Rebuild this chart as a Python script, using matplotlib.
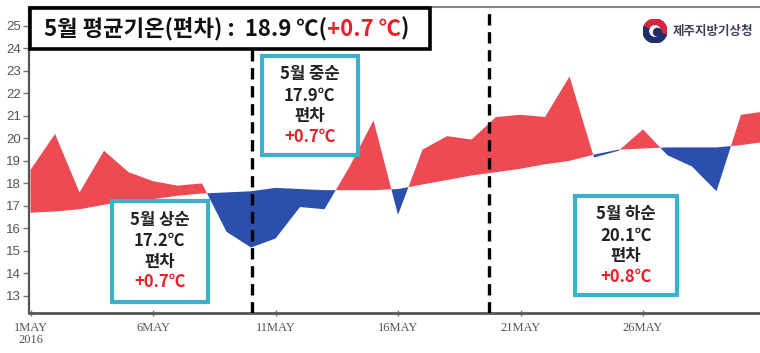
import matplotlib
matplotlib.use('Agg')
import matplotlib.pyplot as plt
from matplotlib.patches import Rectangle, Wedge, Circle
import numpy as np

# ---------------- data ----------------
days = list(range(1, 32))
actual = [18.6, 20.2, 17.6, 19.45, 18.5, 18.1, 17.9, 18.0, 15.85, 15.15,
          15.55, 16.95, 16.85, 18.7, 20.8, 16.6, 19.5, 20.1, 19.95, 20.95,
          21.05, 20.95, 22.75, 19.15, 19.45, 20.4, 19.25, 18.75, 17.65, 21.05,
          21.2]
normal = [16.7, 16.75, 16.85, 17.05, 17.25, 17.3, 17.45, 17.55, 17.6, 17.65,
          17.8, 17.75, 17.7, 17.7, 17.7, 17.75, 17.95, 18.15, 18.35, 18.5,
          18.65, 18.85, 19.0, 19.28, 19.5, 19.55, 19.6, 19.6, 19.6, 19.7,
          19.85]
yticks = list(range(13, 26))
xtick_days = [1, 6, 11, 16, 21, 26]
xtick_labels = ['1MAY\n2016', '6MAY', '11MAY', '16MAY', '21MAY', '26MAY']
dekad_bounds = [10.05, 19.7]
title_black = '5월 평균기온(편차) :  18.9 ℃('
title_red = '+0.7 ℃'
title_end = ')'
box_lines = [
    ['5월 상순', '17.2℃', '편차', '+0.7℃'],
    ['5월 중순', '17.9℃', '편차', '+0.7℃'],
    ['5월 하순', '20.1℃', '편차', '+0.8℃'],
]
logo_text = '제주지방기상청'

# ---------------- figure ----------------
W, H = 760, 353
fig = plt.figure(figsize=(W / 100, H / 100), dpi=100)

def fx(px):
    return px / W

def fy(py):
    return 1 - py / H

ax = fig.add_axes([fx(29.3), fy(313), fx(760) - fx(29.3), fy(7) - fy(313)])

RED = '#EE4A53'
BLUE = '#2C4FAE'
CYAN = '#3BB2C8'

a = np.array(actual)
n = np.array(normal)
ax.fill_between(days, n, a, where=a >= n, interpolate=True, color=RED, lw=0)
ax.fill_between(days, n, a, where=a <= n, interpolate=True, color=BLUE, lw=0)

for xb in dekad_bounds:
    ax.axvline(xb, color='black', lw=2.4, ls=(0, (3.4, 2.0)), zorder=3)

ax.set_xlim(0.95, 1 + (760 - 30.5) / 24.5)
ax.set_ylim(12.24, 25.84)
ax.set_yticks(yticks)
ax.set_yticklabels([str(v) for v in yticks], fontsize=9.5, color='#555555',
                   family=['Liberation Sans Narrow', 'Liberation Sans'])
ax.set_xticks(xtick_days)
ax.set_xticklabels(xtick_labels, fontsize=9, color='#555555',
                   family='Liberation Serif', linespacing=0.95)
ax.tick_params(axis='y', direction='out', length=4, width=1, color='#777777', pad=2)
ax.tick_params(axis='x', direction='inout', length=5, width=1, color='#777777', pad=4)
ax.spines['left'].set_color('#555555')
ax.spines['left'].set_linewidth(1.6)
ax.spines['bottom'].set_color('#555555')
ax.spines['bottom'].set_linewidth(2.0)
ax.spines['top'].set_color('#888888')
ax.spines['top'].set_linewidth(1.5)
ax.spines['right'].set_visible(False)

# ---------------- title box ----------------
fig.patches.append(Rectangle((fx(29.5), fy(48.5)), fx(430) - fx(29.5), fy(8) - fy(48.5),
                             transform=fig.transFigure, facecolor='white',
                             edgecolor='black', lw=2.6, zorder=5))
kfont = ['Noto Sans CJK KR', 'DejaVu Sans']
TS = 16
r = fig.canvas.get_renderer()
t1 = fig.text(fx(44), fy(29), title_black, fontsize=TS, fontweight='bold',
              family=kfont, color='#111111', va='center', ha='left', zorder=6)
bb = t1.get_window_extent(renderer=r)
t2 = fig.text(bb.x1 / fig.dpi / fig.get_figwidth(), fy(29), title_red, fontsize=TS,
              fontweight='bold', family=kfont, color='#E8202A', va='center',
              ha='left', zorder=6)
bb2 = t2.get_window_extent(renderer=r)
fig.text(bb2.x1 / fig.dpi / fig.get_figwidth(), fy(29), title_end, fontsize=TS,
         fontweight='bold', family=kfont, color='#111111', va='center', ha='left',
         zorder=6)

# ---------------- dekad boxes ----------------
box_px = [(111.5, 201, 208, 301.5), (261.5, 56, 358, 155), (575, 196, 677, 295)]
for (x0, y0, x1, y1), lines in zip(box_px, box_lines):
    fig.patches.append(Rectangle((fx(x0), fy(y1)), fx(x1) - fx(x0), fy(y0) - fy(y1),
                                 transform=fig.transFigure, facecolor='white',
                                 edgecolor=CYAN, lw=3, zorder=5))
    cx = (x0 + x1) / 2
    cy = (y0 + y1) / 2
    for i, (txt, off) in enumerate(zip(lines, [-31, -10, 11, 31])):
        fig.text(fx(cx), fy(cy + off), txt, fontsize=12, fontweight='bold',
                 family=kfont, color='#E8202A' if i == 3 else '#222222',
                 ha='center', va='center', zorder=6)

# ---------------- logo ----------------
lax = fig.add_axes([fx(643), fy(43), fx(667) - fx(643), fy(19) - fy(43)])
lax.set_xlim(-1, 1)
lax.set_ylim(-1, 1)
lax.set_aspect('equal')
lax.axis('off')
lax.add_patch(Wedge((0, 0), 1, -20, 160, width=0.45, color='#D8253A'))
lax.add_patch(Wedge((0, 0), 1, 160, 340, width=0.45, color='#1F2D6B'))
lax.add_patch(Circle((0.2, -0.1), 0.32, color='#1F2D6B'))
fig.text(fx(713), fy(31), logo_text, fontsize=9, fontweight='bold', family=kfont,
         color='#3C3F5C', ha='center', va='center')

fig.savefig('out.png', dpi=100)
